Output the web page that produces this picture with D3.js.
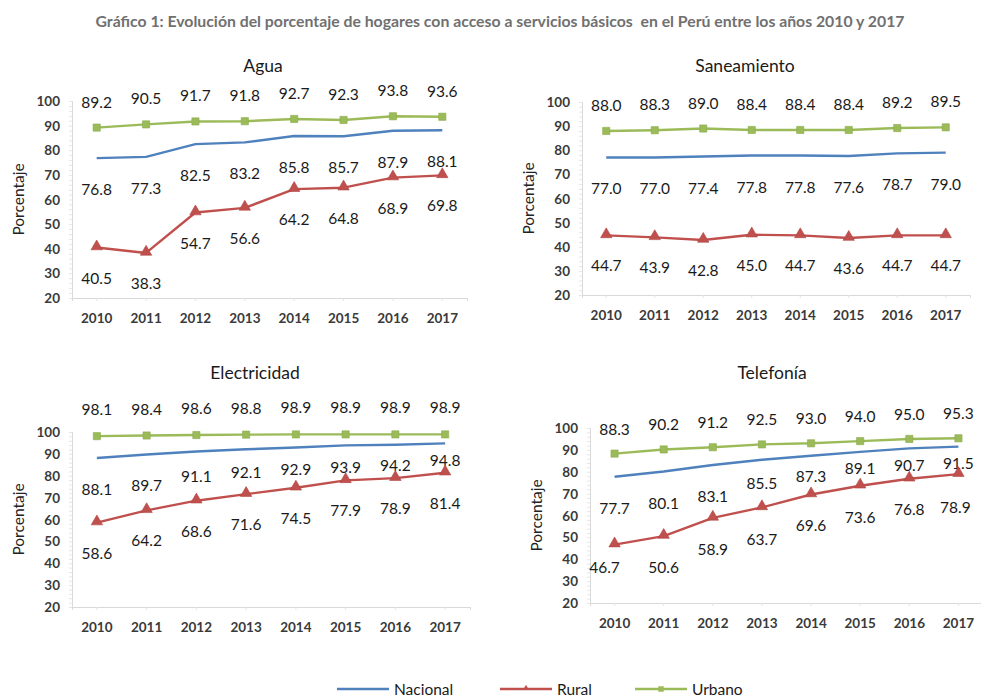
<!DOCTYPE html>
<html lang="es">
<head>
<meta charset="utf-8">
<script src="https://cdn.jsdelivr.net/npm/d3@7"></script>
<style>
  html, body { margin: 0; padding: 0; background: #fff; }
  svg { display: block; font-family: Lato, "Open Sans", sans-serif; }
</style>
</head>
<body>
<svg id="chart" width="981" height="700"></svg>
<script>
// Años y series por servicio (porcentaje de hogares)
const years = ["2010", "2011", "2012", "2013", "2014", "2015", "2016", "2017"];
const yTicks = [20, 30, 40, 50, 60, 70, 80, 90, 100];
const seriesNames = ["Nacional", "Rural", "Urbano"];

const aguaNacional = [76.8, 77.3, 82.5, 83.2, 85.8, 85.7, 87.9, 88.1];
const aguaRural    = [40.5, 38.3, 54.7, 56.6, 64.2, 64.8, 68.9, 69.8];
const aguaUrbano   = [89.2, 90.5, 91.7, 91.8, 92.7, 92.3, 93.8, 93.6];

const saneNacional = [77.0, 77.0, 77.4, 77.8, 77.8, 77.6, 78.7, 79.0];
const saneRural    = [44.7, 43.9, 42.8, 45.0, 44.7, 43.6, 44.7, 44.7];
const saneUrbano   = [88.0, 88.3, 89.0, 88.4, 88.4, 88.4, 89.2, 89.5];

const elecNacional = [88.1, 89.7, 91.1, 92.1, 92.9, 93.9, 94.2, 94.8];
const elecRural    = [58.6, 64.2, 68.6, 71.6, 74.5, 77.9, 78.9, 81.4];
const elecUrbano   = [98.1, 98.4, 98.6, 98.8, 98.9, 98.9, 98.9, 98.9];

const teleNacional = [77.7, 80.1, 83.1, 85.5, 87.3, 89.1, 90.7, 91.5];
const teleRural    = [46.7, 50.6, 58.9, 63.7, 69.6, 73.6, 76.8, 78.9];
const teleUrbano   = [88.3, 90.2, 91.2, 92.5, 93.0, 94.0, 95.0, 95.3];

const mainTitle = "Gráfico 1: Evolución del porcentaje de hogares con acceso a servicios básicos  en el Perú entre los años 2010 y 2017";
const yAxisTitle = "Porcentaje";

// Estilo de cada serie
const colors = { Nacional: "#4F81BD", Rural: "#C0504D", Urbano: "#9BBB59" };
// Desplazamiento vertical por defecto de las etiquetas respecto al punto
const labelDy = { Nacional: 31, Rural: 30, Urbano: -26 };

// Paneles: marco del área de trazado en píxeles y ajustes de etiquetas
const panels = [
  { title: "Agua", series: [aguaNacional, aguaRural, aguaUrbano],
    left: 72, right: 467, top: 101, bottom: 298, titleX: 263, titleY: 65 },
  { title: "Saneamiento", series: [saneNacional, saneRural, saneUrbano],
    left: 582, right: 970, top: 102, bottom: 295, titleX: 745, titleY: 65 },
  { title: "Electricidad", series: [elecNacional, elecRural, elecUrbano],
    left: 72, right: 470, top: 432, bottom: 607, titleX: 255, titleY: 372,
    dy: { Nacional: [31, 30, 25, 23, 21, 22, 20, 17], Urbano: [-27, -27, -27, -27, -27, -27, -27, -27] } },
  { title: "Telefonía", series: [teleNacional, teleRural, teleUrbano],
    left: 590, right: 983, top: 428, bottom: 603, titleX: 772, titleY: 372,
    dy: { Nacional: [31, 31, 31, 23, 20, 16, 17, 16], Rural: [22, 31, 31, 32, 30, 31, 30, 33], Urbano: [-25, -25, -25, -25, -25, -25, -25, -25] },
    dx: { Rural: [-10, 0, 0, 0, 0, 0, 0, -3] } }
];

const svg = d3.select("#chart");

svg.append("text")
  .attr("x", 500).attr("y", 20)
  .attr("text-anchor", "middle")
  .attr("dominant-baseline", "central")
  .attr("font-size", 15.8)
  .attr("font-weight", 700)
  .attr("fill", "#707070")
  .style("white-space", "pre")
  .text(mainTitle);

const triangle = d3.symbol().type(d3.symbolTriangle).size(56);
const square = d3.symbol().type(d3.symbolSquare).size(52);

panels.forEach(p => {
  const g = svg.append("g");
  const x = d3.scaleBand().domain(years).range([p.left, p.right]);
  const y = d3.scaleLinear().domain([20, 100]).range([p.bottom, p.top]);
  const cx = d => x(d) + x.bandwidth() / 2;

  // Título del panel
  g.append("text")
    .attr("x", p.titleX).attr("y", p.titleY)
    .attr("text-anchor", "middle")
    .attr("dominant-baseline", "central")
    .attr("font-size", 17.5)
    .attr("fill", "#1a1a1a")
    .text(p.title);

  // Eje Y con marcas menores
  const yAxis = g.append("g")
    .attr("transform", `translate(${p.left},0)`)
    .call(d3.axisLeft(y).tickValues(d3.range(20, 100.1, 2)).tickSize(3).tickFormat(""));
  yAxis.select(".domain").attr("stroke", "#d9d9d9");
  yAxis.selectAll(".tick line").attr("stroke", "#e6e6e6");

  g.selectAll(".ytl").data(yTicks).join("text")
    .attr("class", "ytl")
    .attr("x", p.left - 12).attr("y", d => y(d))
    .attr("text-anchor", "end")
    .attr("dominant-baseline", "central")
    .attr("font-size", 13.5)
    .attr("font-weight", 700)
    .attr("fill", "#3a3a3a")
    .text(d => d);

  // Eje X
  const xAxis = g.append("g")
    .attr("transform", `translate(0,${p.bottom})`)
    .call(d3.axisBottom(x).tickSize(3).tickFormat(""));
  xAxis.select(".domain").attr("stroke", "#d9d9d9");
  xAxis.selectAll(".tick line").attr("stroke", "#e6e6e6");

  g.selectAll(".xtl").data(years).join("text")
    .attr("class", "xtl")
    .attr("x", d => cx(d)).attr("y", p.bottom + 20)
    .attr("text-anchor", "middle")
    .attr("dominant-baseline", "central")
    .attr("font-size", 13.5)
    .attr("font-weight", 700)
    .attr("fill", "#3a3a3a")
    .text(d => d);

  // Título del eje Y
  g.append("text")
    .attr("transform", `translate(${p.left - 54},${(p.top + p.bottom) / 2}) rotate(-90)`)
    .attr("text-anchor", "middle")
    .attr("dominant-baseline", "central")
    .attr("font-size", 15.5)
    .attr("fill", "#222")
    .text(yAxisTitle);

  // Líneas, marcadores y etiquetas de datos
  seriesNames.forEach((name, i) => {
    const vals = p.series[i];
    const dyArr = (p.dy && p.dy[name]) || years.map(() => labelDy[name]);
    const dxArr = (p.dx && p.dx[name]) || years.map(() => 0);
    const pts = years.map((yr, j) => ({ yr, v: vals[j], dy: dyArr[j], dx: dxArr[j] }));
    const line = d3.line().x(d => cx(d.yr)).y(d => y(d.v));
    g.append("path")
      .datum(pts)
      .attr("d", line)
      .attr("fill", "none")
      .attr("stroke", colors[name])
      .attr("stroke-width", 2.4)
      .attr("stroke-linejoin", "round");

    if (name === "Rural") {
      g.selectAll(null).data(pts).join("path")
        .attr("d", triangle)
        .attr("transform", d => `translate(${cx(d.yr)},${y(d.v) - 1})`)
        .attr("fill", colors[name])
        .attr("stroke", "#b04542").attr("stroke-width", 0.6);
    } else if (name === "Urbano") {
      g.selectAll(null).data(pts).join("path")
        .attr("d", square)
        .attr("transform", d => `translate(${cx(d.yr)},${y(d.v)})`)
        .attr("fill", colors[name])
        .attr("stroke", "#8aab4c").attr("stroke-width", 0.6);
    }

    g.selectAll(null).data(pts).join("text")
      .attr("x", d => cx(d.yr) + d.dx)
      .attr("y", d => y(d.v) + d.dy)
      .attr("text-anchor", "middle")
      .attr("dominant-baseline", "central")
      .attr("font-size", 15.5)
      .attr("fill", "#1a1a1a")
      .text(d => d.v.toFixed(1));
  });
});

// Leyenda
const legendItems = [
  { name: "Nacional", x0: 337 },
  { name: "Rural", x0: 500 },
  { name: "Urbano", x0: 635 }
];
const lg = svg.append("g");
const ly = 689;
legendItems.forEach(it => {
  lg.append("line")
    .attr("x1", it.x0).attr("x2", it.x0 + 52)
    .attr("y1", ly).attr("y2", ly)
    .attr("stroke", colors[it.name]).attr("stroke-width", 2.4);
  if (it.name === "Rural") {
    lg.append("path").attr("d", d3.symbol().type(d3.symbolTriangle).size(14))
      .attr("transform", `translate(${it.x0 + 26},${ly - 1})`)
      .attr("fill", colors[it.name]);
  } else if (it.name === "Urbano") {
    lg.append("path").attr("d", d3.symbol().type(d3.symbolSquare).size(30))
      .attr("transform", `translate(${it.x0 + 26},${ly})`)
      .attr("fill", colors[it.name]);
  }
  lg.append("text")
    .attr("x", it.x0 + 57).attr("y", ly)
    .attr("dominant-baseline", "central")
    .attr("font-size", 15.5)
    .attr("fill", "#1a1a1a")
    .text(it.name);
});
</script>
</body>
</html>
